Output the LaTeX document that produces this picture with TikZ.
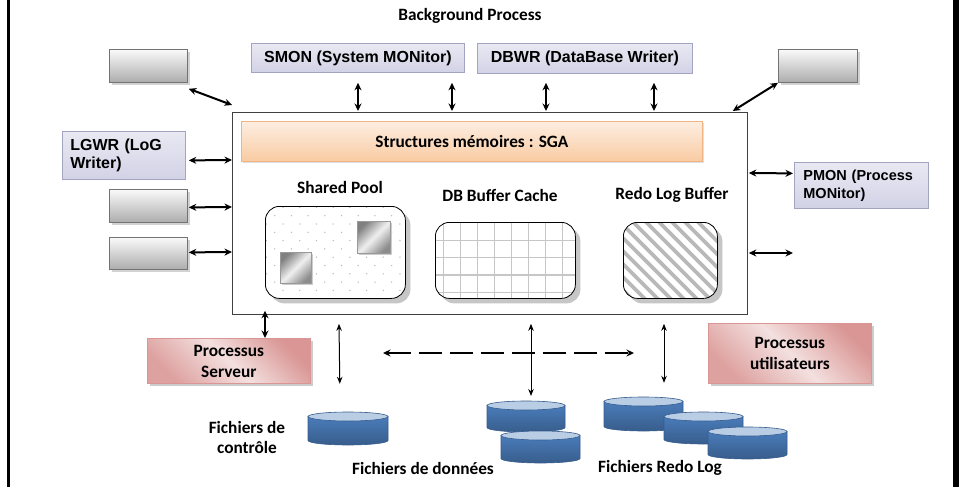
\documentclass[tikz,border=0pt]{standalone}
\usepackage{fontspec}
\setmainfont{Carlito}
\newfontfamily\arialf{Liberation Sans}
\usetikzlibrary{arrows.meta,shadows,calc}
\definecolor{lavtop}{HTML}{E9E9F3}
\definecolor{lavbot}{HTML}{D2D2E6}
\definecolor{lavline}{HTML}{A3A3C2}
\definecolor{sgatop}{HTML}{FDEEE2}
\definecolor{sgabot}{HTML}{F9CBA2}
\definecolor{sgaline}{HTML}{F0B485}
\definecolor{pinkA}{HTML}{F3E0DF}
\definecolor{pinkB}{HTML}{D99694}
\definecolor{pinkline}{HTML}{D99694}
\definecolor{cyltop}{HTML}{B9CDE5}
\definecolor{cylA}{HTML}{4A7CBA}
\definecolor{cylB}{HTML}{82A7D6}
\definecolor{cylline}{HTML}{355C8E}
\newcommand\dbcyl[5]{%
  \pgfmathsetmacro\cxc{(#2+#4)/2}%
  \pgfmathsetmacro\crx{(#4-#2)/2}%
  \pgfmathsetmacro\cyt{#3+4.5}%
  \pgfmathsetmacro\cyb{#5-4.5}%
  \path[top color=cylA, middle color=cylB, bottom color=cylA!75!black, draw=cylline, line width=0.6pt]
    (#2,\cyt) -- (#2,\cyb) arc[start angle=180, end angle=0, x radius=\crx, y radius=4.5] -- (#4,\cyt) -- cycle;
  \path[fill=cyltop, draw=cylline, line width=0.6pt] (\cxc,\cyt) ellipse[x radius=\crx, y radius=4.5];
  \coordinate (#1) at (\cxc,#3);
}
\begin{document}
\begin{tikzpicture}[x=1pt,y=-1pt,
  every node/.style={font=\bfseries\fontsize{17.3}{20}\selectfont},
  lavbox/.style={draw=lavline, line width=0.8pt, top color=lavtop, bottom color=lavbot, anchor=north west, inner sep=0pt, font=\arialf\bfseries\fontsize{16}{18}\selectfont},
  graybox/.style={draw=gray!90!black, line width=0.8pt, top color=gray!4, bottom color=gray!65, anchor=north west, inner sep=0pt, drop shadow={shadow xshift=2.5pt, shadow yshift=-2.5pt, fill=gray!35, opacity=1}},
  poolbox/.style={draw=black, line width=0.8pt, fill=white, rounded corners=14pt, anchor=north west, inner sep=0pt, drop shadow={shadow xshift=5pt, shadow yshift=-5pt, fill=gray!45, opacity=1}},
  sqbox/.style={draw=gray!80, line width=0.6pt, top color=gray!100, bottom color=gray!90, middle color=gray!12, shading angle=45, anchor=north west, inner sep=0pt, drop shadow={shadow xshift=2pt, shadow yshift=-2pt, fill=gray!40, opacity=1}},
  pinkbox/.style={draw=pinkline, line width=0.8pt, top color=pinkB, bottom color=pinkB!85!pinkA, middle color=pinkA, shading angle=-45, anchor=north west, inner sep=0pt, align=center, font=\bfseries\fontsize{17.3}{21}\selectfont, drop shadow={shadow xshift=3pt, shadow yshift=-3pt, fill=gray!40, opacity=1}},
  thickarr/.style={line width=2pt, arrows={Stealth[length=7.5pt,width=7pt]-Stealth[length=7.5pt,width=7pt]}},
  thinarr/.style={line width=1pt, arrows={Stealth[length=7pt,width=5.5pt]-Stealth[length=7pt,width=5.5pt]}},
  dasharr/.style={line width=2pt, dash pattern=on 23pt off 8pt, arrows={Stealth[length=7.5pt,width=7pt]-Stealth[length=7.5pt,width=7pt]}}
]
\useasboundingbox (0,0) rectangle (959,487);
\fill[white] (0,0) rectangle (959,487);
\fill[black] (7,0) rectangle (10,487);
\fill[black] (953,0) rectangle (959,487);

% title
\node (bgt) at (470,16) {Background Process};

% background process boxes
\node[lavbox, minimum width=213pt, minimum height=29pt] (smon) at (251,43) {SMON (System MONitor)};
\node[lavbox, minimum width=215pt, minimum height=30pt] (dbwr) at (477,43) {DBWR (DataBase Writer)};
\node[graybox, minimum width=78pt, minimum height=33pt] (g1) at (109,49) {};
\node[graybox, minimum width=79pt, minimum height=33pt] (g2) at (778,49) {};
\node[lavbox, text width=107pt, inner xsep=8pt, align=left, minimum height=48pt] (lgwr) at (62,131) {LGWR (LoG\\Writer)};
\node[graybox, minimum width=78pt, minimum height=33pt] (g3) at (109,189) {};
\node[graybox, minimum width=78pt, minimum height=32pt] (g4) at (109,237) {};
\node[lavbox, text width=116pt, inner xsep=9pt, align=left, minimum height=46pt, font=\arialf\bfseries\fontsize{14.5}{18}\selectfont] (pmon) at (794,162) {PMON (Process\\MONitor)};

% main SGA frame
\node[draw=black!75, line width=0.8pt, fill=white, anchor=north west, minimum width=515pt, minimum height=202pt, inner sep=0pt] (main) at (232,112) {};
\node[draw=sgaline, line width=0.8pt, top color=sgatop, bottom color=sgabot, anchor=north west, minimum width=461pt, minimum height=40pt, inner sep=0pt, drop shadow={shadow xshift=2pt, shadow yshift=-2pt, fill=gray!25, opacity=1}] (sga) at (241,121) {Structures mémoires : SGA};

% labels
\node (splab) at (340,187) {Shared Pool};
\node (dblab) at (500,195) {DB Buffer Cache};
\node (rllab) at (672,195) {Redo Log Buffer};

% shared pool
\node[poolbox, minimum width=140pt, minimum height=92pt, path picture={
  \foreach \r in {0,...,11} {
    \foreach \c in {-1,...,8} {
      \fill[gray!55] ($(path picture bounding box.north west)+({9.3+8.35*(1-mod(\r,2))+16.7*\c},{1+8.3*\r})$) circle (0.75pt);
    }
  }
}] (spool) at (265,206) {};
\node[sqbox, minimum width=33pt, minimum height=32pt] (sq1) at (357,221) {};
\node[sqbox, minimum width=31pt, minimum height=31pt] (sq2) at (280,252) {};

% DB buffer cache
\node[poolbox, minimum width=140pt, minimum height=76pt, path picture={
  \foreach \i in {0,...,8} { \draw[gray!45, line width=1.3pt] ($(path picture bounding box.north west)+({8+17*\i},-20)$) -- ++(0,120); }
  \foreach \j in {0,...,4} { \draw[gray!45, line width=1.3pt] ($(path picture bounding box.north west)+(-20,{18+17.3*\j})$) -- ++(180,0); }
}] (dbc) at (435,222) {};

% redo log buffer
\node[poolbox, minimum width=94pt, minimum height=76pt, path picture={
  \foreach \k in {-8,...,8} { \draw[gray!55, line width=3.6pt] ($(path picture bounding box.north west)+({13*\k},-10)$) -- ++(96,96); }
}] (rlb) at (623,222) {};

% process boxes
\node[pinkbox, minimum width=163pt, minimum height=45pt, text depth=0pt] (pserv) at (147,338) {Processus\\Serveur};
\node[pinkbox, minimum width=163pt, minimum height=60pt] (puser) at (708,323) {Processus\\utilisateurs};

% cylinders
\dbcyl{ctl}{308}{412}{388}{445}
\dbcyl{dat1}{487}{401}{565}{432}
\dbcyl{dat2}{501}{431}{580}{463}
\dbcyl{red1}{604}{397}{683}{431}
\dbcyl{red2}{664}{412}{743}{444}
\dbcyl{red3}{708}{427}{787}{459}

\node[align=center] (ctllab) at (247,437) {Fichiers de\\contrôle};
\node (datlab) at (423,468) {Fichiers de données};
\node (redlab) at (660,468) {Fichiers Redo Log};

% connectors
\draw[thickarr] ($(g1.south east)+(1,6)$) -- ($(main.north west)+(0,-7)$);
\draw[thickarr] ($(main.north east)+(-15,-1)$) -- (g2.south west);
\draw[thickarr] ($(smon.south west)+(107,10)$) -- ($(main.north west)+(126,-1)$);
\draw[thickarr] ($(smon.south west)+(201,10)$) -- ($(main.north west)+(220,-1)$);
\draw[thickarr] ($(dbwr.south west)+(69,9)$) -- ($(main.north west)+(314,-1)$);
\draw[thickarr] ($(dbwr.south west)+(177,9)$) -- ($(main.north west)+(422,-1)$);
\draw[thickarr] ($(lgwr.east)+(3,5)$) -- ($(main.north west)+(0,48)$);
\draw[thickarr] ($(g3.east)+(1,1.5)$) -- ($(main.north west)+(0,95)$);
\draw[thickarr] ($(g4.east)+(1,-1)$) -- ($(main.north west)+(0,140)$);
\draw[thickarr] ($(main.north east)+(1,61)$) -- ($(pmon.west)+(-1,-12)$);
\coordinate (rfree) at (793,253);
\draw[thickarr] ($(main.north east)+(1,141)$) -- (rfree);
\draw[thickarr] ($(main.south west)+(33,-4)$) -- ($(pserv.north west)+(118,0)$);
\draw[thinarr] ($(main.south west)+(107,9)$) -- ($(pserv.south east)+(29,0)$);
\draw[thinarr] ($(main.south west)+(299,9)$) -- ($(dat1)+(5,-5)$);
\draw[thinarr] ($(main.south west)+(432,9)$) -- ($(puser.south west)+(-44,-1)$);
\coordinate (dl) at (383,353);
\coordinate (dr) at (634,353);
\draw[dasharr] (dl) -- (dr);
\end{tikzpicture}
\end{document}
